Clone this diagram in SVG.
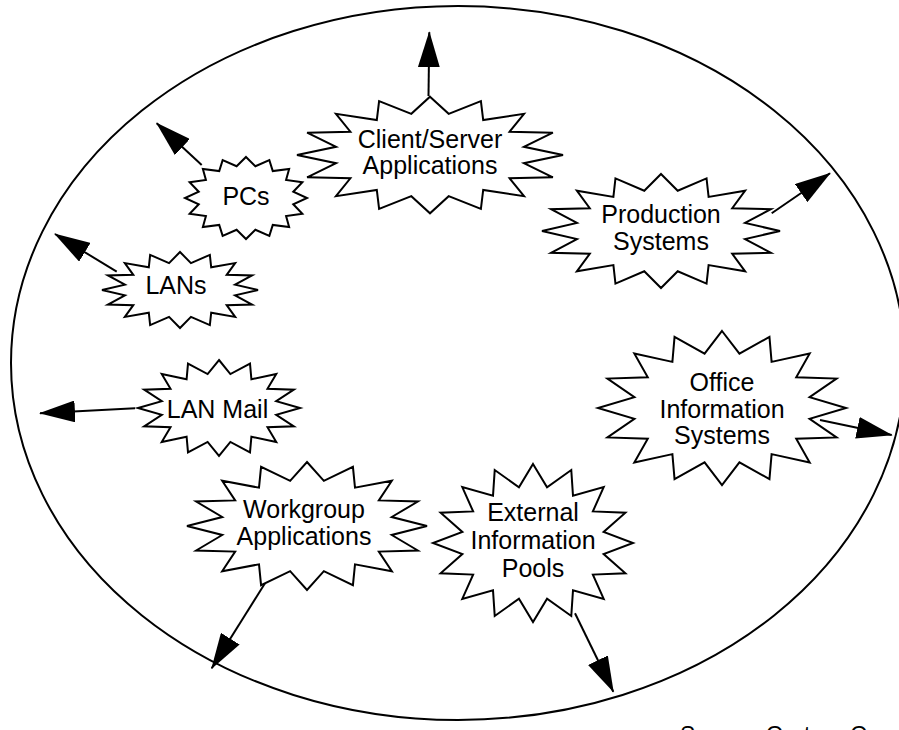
<svg xmlns="http://www.w3.org/2000/svg" xmlns:xlink="http://www.w3.org/1999/xlink" width="899" height="730" viewBox="0 0 899 730">
  <style>
    .burst { fill: #fff; stroke: #000; stroke-width: 2; stroke-linejoin: miter; }
    .lbl { font-family: "Liberation Sans", Arial, Helvetica, sans-serif; font-size: 25px; fill: #000; text-anchor: middle; }
    .edge { stroke: #000; stroke-width: 2; fill: none; marker-end: url(#head); }
    .src { font-family: "Liberation Sans", Arial, Helvetica, sans-serif; font-size: 23px; fill: #000; }
  </style>
  <defs>
    <!-- 16-point burst on a unit (100) circle, inner radius 72% -->
    <polygon id="burst72" class="burst" vector-effect="non-scaling-stroke" points="0,-100 14.05,-70.62 38.27,-92.39 40,-59.87 70.71,-70.71 59.87,-40 92.39,-38.27 70.62,-14.05 100,0 70.62,14.05 92.39,38.27 59.87,40 70.71,70.71 40,59.87 38.27,92.39 14.05,70.62 0,100 -14.05,70.62 -38.27,92.39 -40,59.87 -70.71,70.71 -59.87,40 -92.39,38.27 -70.62,14.05 -100,0 -70.62,-14.05 -92.39,-38.27 -59.87,-40 -70.71,-70.71 -40,-59.87 -38.27,-92.39 -14.05,-70.62"/>
    <!-- same burst with shallower spikes (inner radius 79%) -->
    <polygon id="burst79" class="burst" vector-effect="non-scaling-stroke" points="0,-100 15.41,-77.48 38.27,-92.39 43.89,-65.69 70.71,-70.71 65.69,-43.89 92.39,-38.27 77.48,-15.41 100,0 77.48,15.41 92.39,38.27 65.69,43.89 70.71,70.71 43.89,65.69 38.27,92.39 15.41,77.48 0,100 -15.41,77.48 -38.27,92.39 -43.89,65.69 -70.71,70.71 -65.69,43.89 -92.39,38.27 -77.48,15.41 -100,0 -77.48,-15.41 -92.39,-38.27 -65.69,-43.89 -70.71,-70.71 -43.89,-65.69 -38.27,-92.39 -15.41,-77.48"/>
    <marker id="head" markerUnits="userSpaceOnUse" markerWidth="36" markerHeight="22" viewBox="0 0 36 22" refX="35" refY="11" orient="auto">
      <path d="M0,0 L36,11 L0,22 Z" fill="#000"/>
    </marker>
  </defs>

  <rect x="0" y="0" width="899" height="730" fill="#fff"/>

  <!-- enclosing boundary -->
  <ellipse cx="458" cy="363" rx="447" ry="357" fill="none" stroke="#000" stroke-width="2"/>

  <g id="connectors">
    <line class="edge" x1="428.5" y1="96" x2="429.3" y2="32.3"/>
    <line class="edge" x1="201.7" y1="165" x2="156.7" y2="123.3"/>
    <line class="edge" x1="771.7" y1="213.3" x2="830" y2="173.3"/>
    <line class="edge" x1="820" y1="420" x2="891.7" y2="435"/>
    <line class="edge" x1="135" y1="408.3" x2="40" y2="413.3"/>
    <line class="edge" x1="265" y1="583.3" x2="211.7" y2="668.3"/>
    <line class="edge" x1="575" y1="613.3" x2="613.3" y2="691.7"/>
    <line class="edge" x1="116.7" y1="271.7" x2="55" y2="234"/>
  </g>

  <g id="client-server">
    <use xlink:href="#burst72" href="#burst72" transform="translate(430,155) scale(1.33,0.583)"/>
    <text class="lbl" x="430" y="148">Client/Server</text>
    <text class="lbl" x="430" y="174">Applications</text>
  </g>

  <g id="pcs">
    <use xlink:href="#burst79" href="#burst79" transform="translate(246,198) scale(0.61,0.41)"/>
    <text class="lbl" x="246" y="205">PCs</text>
  </g>

  <g id="production">
    <use xlink:href="#burst72" href="#burst72" transform="translate(661,231) scale(1.19,0.57)"/>
    <text class="lbl" x="661" y="223">Production</text>
    <text class="lbl" x="661" y="249.5">Systems</text>
  </g>

  <g id="lans">
    <use xlink:href="#burst72" href="#burst72" transform="translate(180,290) scale(0.78,0.38)"/>
    <text class="lbl" x="176" y="294">LANs</text>
  </g>

  <g id="office">
    <use xlink:href="#burst72" href="#burst72" transform="translate(722,408) scale(1.24,0.77)"/>
    <text class="lbl" x="722" y="390.5">Office</text>
    <text class="lbl" x="722" y="418">Information</text>
    <text class="lbl" x="722" y="444">Systems</text>
  </g>

  <g id="lan-mail">
    <use xlink:href="#burst72" href="#burst72" transform="translate(219,408) scale(0.81,0.48)"/>
    <text class="lbl" x="217.5" y="418">LAN Mail</text>
  </g>

  <g id="workgroup">
    <use xlink:href="#burst72" href="#burst72" transform="translate(307,526) scale(1.2,0.64)"/>
    <text class="lbl" x="304" y="518">Workgroup</text>
    <text class="lbl" x="304" y="545">Applications</text>
  </g>

  <g id="external">
    <use xlink:href="#burst72" href="#burst72" transform="translate(533,543) scale(1.0,0.79)"/>
    <text class="lbl" x="533" y="521">External</text>
    <text class="lbl" x="533" y="549">Information</text>
    <text class="lbl" x="533" y="576.5">Pools</text>
  </g>

  <text class="src" x="680" y="743">Source: Gartner Group</text>
</svg>
